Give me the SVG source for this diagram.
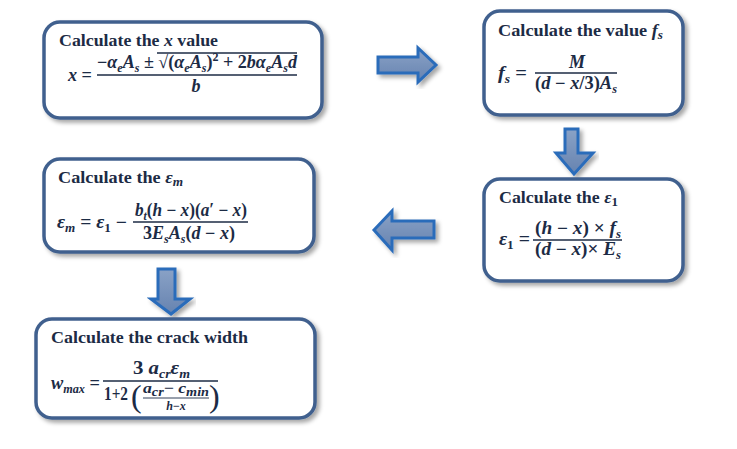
<svg xmlns="http://www.w3.org/2000/svg" width="737" height="449" viewBox="0 0 737 449">
<defs>
<style>
.box{fill:#fff;stroke:#41608e;stroke-width:3.5}
.arrow{fill:url(#ag);stroke:#2c6cba;stroke-width:3;stroke-linejoin:miter}
.t{font-family:"Liberation Serif",serif;font-weight:bold;font-size:16.5px;fill:#1c2b45}
.m{font-family:"Liberation Serif",serif;font-weight:bold;font-style:italic;font-size:18px;fill:#1c2b45}
.n{font-style:normal}
.s{font-size:12px}
.fl{stroke:#1c2b45;stroke-width:1.3}
</style>
<linearGradient id="ag" x1="0" y1="0" x2="0" y2="1">
<stop offset="0" stop-color="#8aa2c6"/>
<stop offset="1" stop-color="#6683b0"/>
</linearGradient>
<filter id="sh" x="-10%" y="-10%" width="125%" height="130%">
<feDropShadow dx="3" dy="3" stdDeviation="2" flood-color="#000" flood-opacity="0.35"/>
</filter>
</defs>
<rect width="737" height="449" fill="#fff"/>

<g id="connectors">
<polygon class="arrow" filter="url(#sh)" points="378,57 418,57 418,48 436,65 418,82 418,73 378,73"/>
<polygon class="arrow" filter="url(#sh)" points="565,129 578,129 578,153 593,153 574,174 556,153 565,153"/>
<polygon class="arrow" filter="url(#sh)" points="434,221 392,221 392,211 374,230 392,250 392,238 434,238"/>
<polygon class="arrow" filter="url(#sh)" points="158,269 175,269 175,299 190,299 171,314 151,299 158,299"/>
</g>

<g id="node-x">
<rect class="box" filter="url(#sh)" x="44" y="22" width="278" height="96" rx="16"/>
<text class="t" x="59" y="46" textLength="159" lengthAdjust="spacingAndGlyphs">Calculate the <tspan font-style="italic">x</tspan> value</text>
<text class="m" x="68" y="81" textLength="24" lengthAdjust="spacingAndGlyphs">x <tspan class="n">=</tspan></text>
<text class="m" x="97" y="68" textLength="200" lengthAdjust="spacingAndGlyphs"><tspan class="n">−</tspan>α<tspan class="s" dy="4">e</tspan><tspan dy="-4">A</tspan><tspan class="s" dy="4">s</tspan><tspan class="n" dy="-4"> ± √(</tspan>α<tspan class="s" dy="4">e</tspan><tspan dy="-4">A</tspan><tspan class="s" dy="4">s</tspan><tspan class="n" dy="-4">)</tspan><tspan class="s n" dy="-7">2</tspan><tspan class="n" dy="7"> + 2</tspan>bα<tspan class="s" dy="4">e</tspan><tspan dy="-4">A</tspan><tspan class="s" dy="4">s</tspan><tspan dy="-4">d</tspan></text>
<line class="fl" x1="157" y1="53" x2="297" y2="53"/>
<line class="fl" x1="97" y1="75" x2="297" y2="75"/>
<text class="m" x="196" y="92" text-anchor="middle">b</text>
</g>

<g id="node-fs">
<rect class="box" filter="url(#sh)" x="484" y="11" width="199" height="104" rx="16"/>
<text class="t" x="498" y="36" textLength="165" lengthAdjust="spacingAndGlyphs">Calculate the value <tspan font-style="italic">f</tspan><tspan class="s" font-style="italic" dy="3">s</tspan></text>
<text class="m" x="498" y="79" textLength="29" lengthAdjust="spacingAndGlyphs">f<tspan class="s" dy="4">s</tspan><tspan class="n" dy="-4"> =</tspan></text>
<text class="m" x="577" y="68" text-anchor="middle">M</text>
<line class="fl" x1="535" y1="73" x2="617" y2="73"/>
<text class="m" x="535" y="89" textLength="82" lengthAdjust="spacingAndGlyphs"><tspan class="n">(</tspan>d <tspan class="n">−</tspan> x<tspan class="n">/3)</tspan>A<tspan class="s" dy="4">s</tspan></text>
</g>

<g id="node-em">
<rect class="box" filter="url(#sh)" x="44" y="159" width="270" height="93" rx="16"/>
<text class="t" x="58" y="183" textLength="125" lengthAdjust="spacingAndGlyphs">Calculate the <tspan font-style="italic">ε</tspan><tspan class="s" font-style="italic" dy="3">m</tspan></text>
<text class="m" x="57" y="228" textLength="70" lengthAdjust="spacingAndGlyphs">ε<tspan class="s" dy="4">m</tspan><tspan class="n" dy="-4"> =  </tspan>ε<tspan class="s n" dy="4">1</tspan><tspan class="n" dy="-4"> −</tspan></text>
<text class="m" x="135" y="216" textLength="112" lengthAdjust="spacingAndGlyphs">b<tspan class="s" dy="4">t</tspan><tspan class="n" dy="-4">(</tspan>h <tspan class="n">−</tspan> x<tspan class="n">)(</tspan>a<tspan class="n">′ −</tspan> x<tspan class="n">)</tspan></text>
<line class="fl" x1="133" y1="222" x2="248" y2="222"/>
<text class="m" x="143" y="239" textLength="92" lengthAdjust="spacingAndGlyphs"><tspan class="n">3</tspan>E<tspan class="s" dy="4">s</tspan><tspan dy="-4">A</tspan><tspan class="s" dy="4">s</tspan><tspan class="n" dy="-4">(</tspan>d <tspan class="n">−</tspan> x<tspan class="n">)</tspan></text>
</g>

<g id="node-e1">
<rect class="box" filter="url(#sh)" x="484" y="179" width="199" height="102" rx="16"/>
<text class="t" x="499" y="203" textLength="119" lengthAdjust="spacingAndGlyphs">Calculate the <tspan font-style="italic">ε</tspan><tspan class="s" dy="3">1</tspan></text>
<text class="m" x="499" y="245" textLength="31" lengthAdjust="spacingAndGlyphs">ε<tspan class="s n" dy="4">1</tspan><tspan class="n" dy="-4"> =</tspan></text>
<text class="m" x="535" y="234" textLength="86" lengthAdjust="spacingAndGlyphs"><tspan class="n">(</tspan>h <tspan class="n">−</tspan> x<tspan class="n">) ×  </tspan>f<tspan class="s" dy="4">s</tspan></text>
<line class="fl" x1="533" y1="240" x2="622" y2="240"/>
<text class="m" x="535" y="255" textLength="86" lengthAdjust="spacingAndGlyphs"><tspan class="n">(</tspan>d <tspan class="n">−</tspan> x<tspan class="n">)× </tspan>E<tspan class="s" dy="4">s</tspan></text>
</g>

<g id="node-w">
<rect class="box" filter="url(#sh)" x="36" y="319" width="279" height="99" rx="16"/>
<text class="t" x="51" y="343" textLength="197" lengthAdjust="spacingAndGlyphs">Calculate the crack width</text>
<text class="m" x="51" y="389" textLength="49" lengthAdjust="spacingAndGlyphs">w<tspan class="s" dy="4">max</tspan><tspan class="n" dy="-4"> =</tspan></text>
<text class="m" x="133" y="374" textLength="57" lengthAdjust="spacingAndGlyphs"><tspan class="n">3 </tspan>a<tspan class="s" dy="4">cr</tspan><tspan dy="-4">ε</tspan><tspan class="s" dy="4">m</tspan></text>
<line class="fl" x1="103" y1="381" x2="218" y2="381"/>
<text class="t" x="104" y="400" style="font-size:18px" textLength="24" lengthAdjust="spacingAndGlyphs">1+2</text>
<text class="t" x="131" y="407" style="font-size:32px;font-weight:normal">(</text>
<text class="m" x="143" y="393" style="font-size:15px" textLength="66" lengthAdjust="spacingAndGlyphs">a<tspan class="s" dy="3">cr</tspan><tspan class="n" dy="-3">− </tspan>c<tspan class="s" dy="3">min</tspan></text>
<line x1="143" y1="398" x2="209" y2="398" stroke="#1c2b45" stroke-width="0.9"/>
<text class="m" x="176" y="410" style="font-size:12px" text-anchor="middle">h<tspan class="n">−</tspan>x</text>
<text class="t" x="209" y="407" style="font-size:32px;font-weight:normal">)</text>
</g>
</svg>
